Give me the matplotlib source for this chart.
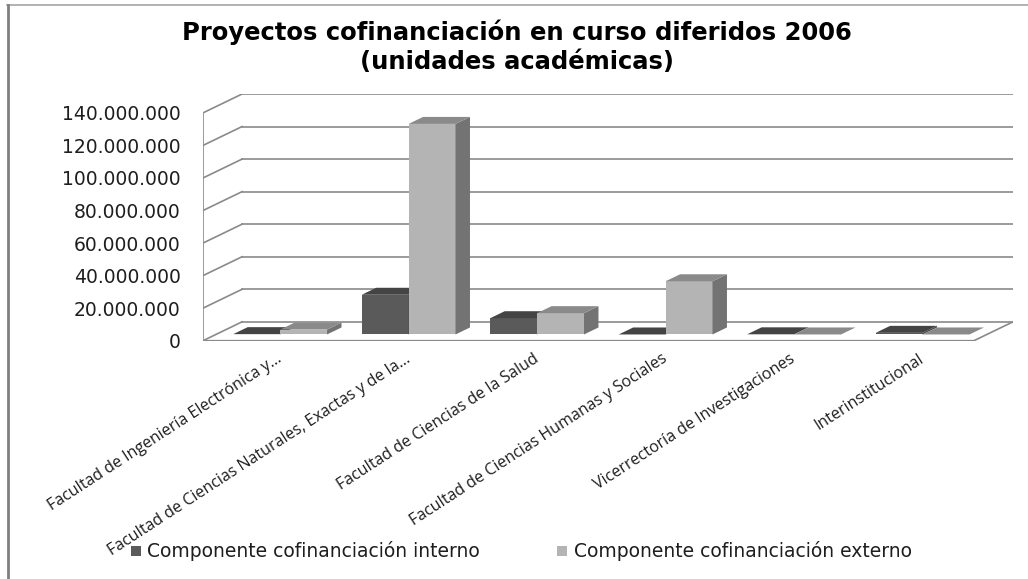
import matplotlib.pyplot as plt
from matplotlib.patches import Polygon
from matplotlib.lines import Line2D

# datos
categorias = ['Facultad de Ingeniería Electrónica y...',
              'Facultad de Ciencias Naturales, Exactas y de la...',
              'Facultad de Ciencias de la Salud',
              'Facultad de Ciencias Humanas y Sociales',
              'Vicerrectoría de Investigaciones',
              'Interinstitucional']
interno = [200000, 24400000, 10000000, 0, 100000, 1000000]
externo = [3000000, 129400000, 13100000, 32700000, 0, 0]
series = ['Componente cofinanciación interno', 'Componente cofinanciación externo']
ticks_y = [0, 20000000, 40000000, 60000000, 80000000, 100000000, 120000000, 140000000]

# colores: frente, arriba, lado
col_int = ('#5a5a5a', '#444444', '#4c4c4c')
col_ext = ('#b4b4b4', '#8a8a8a', '#737373')
grid = '#8a8a8a'
txt = '#1e1e1e'

# geometria del "3D"
DX = 0.304        # profundidad de la caja (unidades de categoria)
DY = 11.6e6       # profundidad de la caja (unidades de valor)
f0, f1 = 0.33, 0.70   # posicion de la barra en la profundidad
off, w = 0.135, 0.365


def barra(ax, x, v, cols):
    x0, x1 = x + f0 * DX, x + w + f0 * DX
    y0 = f0 * DY
    ddx, ddy = (f1 - f0) * DX, (f1 - f0) * DY
    ax.add_patch(Polygon([(x0, y0), (x1, y0), (x1, y0 + v), (x0, y0 + v)],
                         closed=True, fc=cols[0], ec='none', zorder=3))
    ax.add_patch(Polygon([(x1, y0), (x1 + ddx, y0 + ddy), (x1 + ddx, y0 + v + ddy), (x1, y0 + v)],
                         closed=True, fc=cols[2], ec='none', zorder=3))
    ax.add_patch(Polygon([(x0, y0 + v), (x1, y0 + v), (x1 + ddx, y0 + v + ddy), (x0 + ddx, y0 + v + ddy)],
                         closed=True, fc=cols[1], ec='none', zorder=3))


fig = plt.figure(figsize=(10.28, 5.79), dpi=100)
ax = fig.add_axes([203 / 1028, (579 - 340.7) / 579, 810 / 1028, 246.7 / 579])
n = len(categorias)
ax.set_xlim(0, n + DX)
ax.set_ylim(0, 140e6 + DY)
for s in ax.spines.values():
    s.set_visible(False)

# paredes y piso
for v in ticks_y:
    ax.plot([DX, n + DX], [v + DY, v + DY], color=grid, lw=1.2, zorder=1)
    ax.plot([0, DX], [v, v + DY], color=grid, lw=1.2, zorder=1)
ax.plot([0, 0], [0, 140e6], color=grid, lw=1.2, zorder=1)
ax.plot([0, n, n + DX], [0, 0, DY], color=grid, lw=1.2, zorder=1)

for i in range(n):
    barra(ax, i + off, interno[i], col_int)
    barra(ax, i + off + w, externo[i], col_ext)

ax.set_yticks(ticks_y)
ax.set_yticklabels([f'{v:,}'.replace(',', '.') for v in ticks_y], fontsize=13.5, color=txt)
ax.tick_params(axis='y', length=0, pad=16)
ax.set_xticks([i + 0.6 for i in range(n)])
ax.set_xticklabels(categorias, rotation=33, ha='right', va='center', rotation_mode='anchor',
                   fontsize=11.5, color=txt, family='Open Sans')
ax.tick_params(axis='x', length=0, pad=12)

fig.text(0.503, 1 - 47 / 579, 'Proyectos cofinanciación en curso diferidos 2006\n(unidades académicas)',
         ha='center', va='center', fontsize=17.5, fontweight='bold', linespacing=1.25, color='black')

# leyenda
fig.patches.append(plt.Rectangle((131 / 1028, (579 - 556) / 579), 10 / 1028, 10 / 579,
                                 fc=col_int[0], transform=fig.transFigure))
fig.text(147 / 1028, (579 - 551) / 579, series[0], ha='left', va='center', fontsize=13.5, color=txt)
fig.patches.append(plt.Rectangle((557 / 1028, (579 - 556) / 579), 10 / 1028, 10 / 579,
                                 fc=col_ext[0], transform=fig.transFigure))
fig.text(574 / 1028, (579 - 551) / 579, series[1], ha='left', va='center', fontsize=13.5, color=txt)

# marco
fig.add_artist(Line2D([7 / 1028, 1], [1 - 5 / 579, 1 - 5 / 579], color='#a6a6a6', lw=1.2))
fig.add_artist(Line2D([8 / 1028, 8 / 1028], [0, 1 - 5 / 579], color='#808080', lw=2))

fig.savefig('out.png', dpi=100)
